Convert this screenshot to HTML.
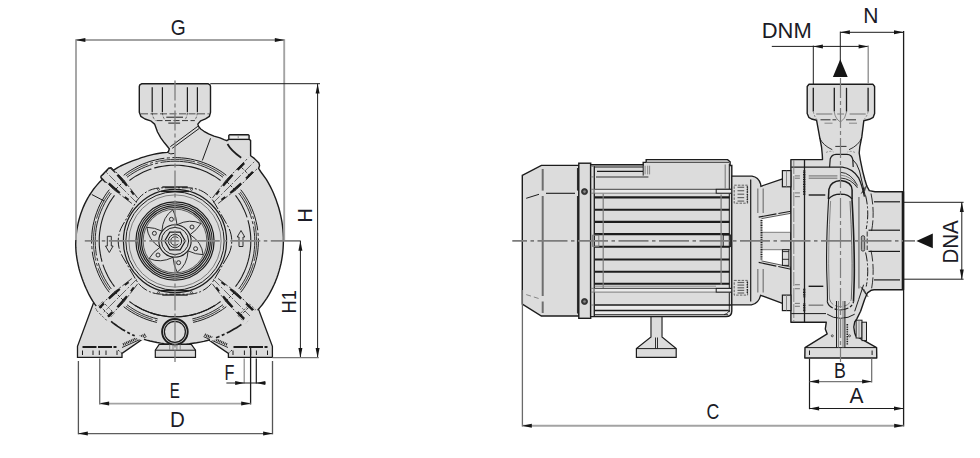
<!DOCTYPE html>
<html lang="en">
<head>
<meta charset="utf-8">
<title>Pump dimensions</title>
<style>
html,body{margin:0;padding:0;background:#ffffff;}
body{width:980px;height:458px;overflow:hidden;}
svg{display:block;}
svg text{font-family:"Liberation Sans",sans-serif;}
</style>
</head>
<body>
<svg width="980" height="458" viewBox="0 0 980 458" stroke-linecap="butt">
<rect x="0" y="0" width="980" height="458" fill="#ffffff"/>
<path d="M93.5 303.0 L77.5 346.3 L77.5 357.4 L122.0 357.4 L122.0 353.4 L147.0 336.0 L160.0 320.0 L120.0 290.0 Z" stroke="#1c1c1c" stroke-width="1.3" fill="#dcdcdc" />
<path d="M258.8 310.0 L272.4 346.3 L272.4 357.4 L228.4 357.4 L228.4 353.4 L203.0 336.0 L190.0 320.0 L235.0 290.0 Z" stroke="#1c1c1c" stroke-width="1.3" fill="#dcdcdc" />
<path d="M159.2 344.3 L191.3 344.3 L195.5 350.2 L195.5 357.4 L155.3 357.4 L155.3 350.2 Z" stroke="#1c1c1c" stroke-width="1.2" fill="#dcdcdc" />
<line x1="155.3" y1="350.2" x2="195.5" y2="350.2" stroke="#1c1c1c" stroke-width="1.0" />
<path d="M139.3 86.5 L139.3 112.3 L140.8 116.3 L145.0 119.0 L150.6 120.8 L154.6 124.1 L157.5 132.0 L160.8 137.8 L164.4 142.8 L169.3 148.7 L168.6 151.2 L167.3 152.4 L162.6 152.7 L159.5 153.2 L156.5 153.7 L153.4 154.4 L150.4 155.1 L147.4 155.9 L144.3 156.8 L141.4 157.7 L138.4 158.8 L135.4 159.8 L132.4 160.9 L129.4 162.1 L126.4 163.3 L123.5 164.6 L120.5 166.0 L117.6 167.6 L114.8 169.3 L112.1 171.2 L109.5 173.1 L106.9 175.2 L104.4 177.4 L101.9 179.7 L99.6 182.1 L97.3 184.6 L95.2 187.1 L93.1 189.8 L91.2 192.6 L89.3 195.5 L87.6 198.4 L86.0 201.4 L84.5 204.4 L83.1 207.6 L81.9 210.7 L80.7 214.0 L79.7 217.2 L78.8 220.5 L78.0 223.9 L77.3 227.3 L76.7 230.7 L76.3 234.1 L76.0 237.5 L75.8 241.0 L75.7 244.5 L75.8 247.9 L76.0 251.4 L76.4 254.9 L76.9 258.3 L77.5 261.7 L78.2 265.1 L79.0 268.5 L79.9 271.9 L81.0 275.2 L82.1 278.5 L83.3 281.8 L84.6 285.1 L86.0 288.3 L87.5 291.5 L89.0 294.7 L90.8 297.8 L92.6 300.9 L94.6 303.8 L96.7 306.7 L99.0 309.5 L101.3 312.2 L103.8 314.7 L106.3 317.2 L109.0 319.6 L111.8 321.9 L114.6 324.1 L117.5 326.2 L120.5 328.2 L123.6 330.1 L126.7 331.9 L129.9 333.6 L133.1 335.1 L136.4 336.5 L139.7 337.9 L143.1 339.0 L146.6 340.1 L150.1 341.0 L153.6 341.8 L157.1 342.5 L160.7 343.1 L164.2 343.6 L167.8 343.9 L171.4 344.2 L175.0 344.3 L178.6 344.3 L182.2 344.3 L185.8 344.1 L189.4 343.8 L193.0 343.3 L196.6 342.8 L200.2 342.1 L203.8 341.4 L207.3 340.5 L210.8 339.4 L214.3 338.3 L217.8 337.0 L221.2 335.6 L224.5 334.1 L227.9 332.5 L231.1 330.8 L234.4 329.0 L237.5 327.1 L240.6 325.0 L243.7 322.9 L246.6 320.6 L249.5 318.2 L252.3 315.7 L255.0 313.0 L257.6 310.3 L260.0 307.4 L262.4 304.5 L264.6 301.4 L266.7 298.3 L268.7 295.1 L270.5 291.8 L272.3 288.4 L273.9 285.0 L275.4 281.6 L276.8 278.0 L278.0 274.5 L279.1 270.9 L280.1 267.2 L281.0 263.5 L281.7 259.8 L282.3 256.1 L282.8 252.3 L283.1 248.6 L283.3 244.8 L283.4 241.0 L283.4 237.2 L283.2 233.4 L282.9 229.7 L282.5 225.9 L282.0 222.1 L281.3 218.4 L280.5 214.7 L279.6 211.0 L278.6 207.3 L277.4 203.7 L276.2 200.1 L274.8 196.6 L273.4 193.0 L271.8 189.5 L270.1 186.1 L268.2 182.7 L266.3 179.4 L260.6 171.5 L258.6 168.4 L259.6 165.6 L258.9 163.0 L254.3 158.4 L250.6 155.8 L250.6 140.4 L249.1 139.4 L249.1 135.6 L248.3 134.8 L229.6 134.8 L228.8 135.6 L228.8 139.4 L226.8 140.7 L224.0 139.6 L220.0 137.9 L214.0 136.2 L208.6 133.9 L204.0 131.3 L200.7 129.0 L198.6 126.5 L197.8 124.1 L200.7 120.8 L205.5 118.8 L209.4 116.3 L210.5 112.3 L210.5 86.5 L210.0 84.8 L208.3 83.8 L141.5 83.8 L139.8 84.8 Z" stroke="#1c1c1c" stroke-width="1.4" fill="#dcdcdc" stroke-linejoin="round"/>
<path d="M115.3 172.6 L110.6 168.0 L108.9 168.0 L100.9 176.2 L100.9 177.9 L105.6 182.5 Z" stroke="none" stroke-width="0" fill="#dcdcdc" />
<path d="M115.3 172.6 L110.6 168.0 L108.9 168.0 L100.9 176.2 L100.9 177.9 L105.6 182.5" stroke="#1c1c1c" stroke-width="1.3" fill="none" stroke-linejoin="round"/>
<line x1="152.2" y1="87.2" x2="152.2" y2="112.3" stroke="#1c1c1c" stroke-width="1.2" />
<line x1="162.4" y1="87.2" x2="162.4" y2="112.3" stroke="#1c1c1c" stroke-width="1.2" />
<line x1="187.4" y1="87.2" x2="187.4" y2="112.3" stroke="#1c1c1c" stroke-width="1.2" />
<line x1="197.4" y1="87.2" x2="197.4" y2="112.3" stroke="#1c1c1c" stroke-width="1.2" />
<line x1="141.0" y1="113.7" x2="208.8" y2="113.7" stroke="#7d7d7d" stroke-width="1.4" stroke-dasharray="7 2.5"/>
<line x1="166.3" y1="117.2" x2="183.0" y2="117.2" stroke="#1c1c1c" stroke-width="1.0" />
<line x1="156.5" y1="120.6" x2="194.8" y2="120.6" stroke="#333" stroke-width="1.0" stroke-dasharray="6 2.5"/>
<line x1="168.3" y1="123.1" x2="180.1" y2="123.1" stroke="#1c1c1c" stroke-width="1.0" />
<path d="M152.2 113 q0.6 5 3.2 7.5" stroke="#444" stroke-width="0.9" fill="none" stroke-dasharray="2.2 1.5"/>
<path d="M162.4 113 q0.6 5 3.2 7.5" stroke="#444" stroke-width="0.9" fill="none" stroke-dasharray="2.2 1.5"/>
<path d="M187.4 113 q-0.6 5 -3.2 7.5" stroke="#444" stroke-width="0.9" fill="none" stroke-dasharray="2.2 1.5"/>
<path d="M197.4 113 q-0.6 5 -3.2 7.5" stroke="#444" stroke-width="0.9" fill="none" stroke-dasharray="2.2 1.5"/>
<line x1="197.8" y1="126.3" x2="170.3" y2="146.7" stroke="#1c1c1c" stroke-width="1.0" />
<line x1="199.0" y1="128.6" x2="172.2" y2="148.3" stroke="#1c1c1c" stroke-width="1.0" />
<line x1="210.5" y1="138.3" x2="202.3" y2="160.5" stroke="#1c1c1c" stroke-width="1.0" />
<path d="M167.3 152.4 q3.5 2.5 7 1" stroke="#1c1c1c" stroke-width="1.0" fill="none" />
<line x1="228.8" y1="139.4" x2="249.1" y2="139.4" stroke="#1c1c1c" stroke-width="1.3" />
<line x1="230.5" y1="137.2" x2="247.5" y2="137.2" stroke="#f2f2f2" stroke-width="1.5" />
<line x1="238.2" y1="136.2" x2="238.2" y2="138.2" stroke="#7d7d7d" stroke-width="0.9" />
<path d="M227.5 144 Q231 150.5 241.2 157.8" stroke="#1c1c1c" stroke-width="1.7" fill="none" />
<path d="M226.3 175.3 L222.8 172.6 L219.1 170.2 L215.3 168.0 L211.4 165.9 L207.3 164.1 L203.2 162.5 L199.0 161.1 L194.7 160.0 L190.4 159.0 L186.0 158.3 L181.6 157.9 L177.2 157.6 L172.8 157.6 L168.4 157.9 L164.0 158.3 L159.6 159.0 L155.3 160.0 L151.0 161.1 L146.8 162.5 L142.7 164.1 L138.6 165.9 L134.7 168.0 L130.9 170.2 L127.2 172.6 L123.7 175.3" stroke="#1c1c1c" stroke-width="1.0" fill="none" stroke-dasharray="58 2.5 3 2.5"/>
<path d="M109.3 189.7 L106.6 193.2 L104.2 196.9 L102.0 200.7 L99.9 204.6 L98.1 208.7 L96.5 212.8 L95.1 217.0 L94.0 221.3 L93.0 225.6 L92.3 230.0 L91.9 234.4 L91.6 238.8 L91.6 243.2 L91.9 247.6 L92.3 252.0 L93.0 256.4 L94.0 260.7 L95.1 265.0 L96.5 269.2 L98.1 273.3 L99.9 277.4 L102.0 281.3 L104.2 285.1 L106.6 288.8 L109.3 292.3" stroke="#1c1c1c" stroke-width="1.0" fill="none" stroke-dasharray="58 2.5 3 2.5"/>
<path d="M123.7 306.7 L127.4 309.5 L131.3 312.0 L135.3 314.3 L139.4 316.4 L143.7 318.3 L148.0 319.9 L152.4 321.3 L156.9 322.4" stroke="#1c1c1c" stroke-width="1.0" fill="none" stroke-dasharray="58 2.5 3 2.5"/>
<path d="M193.1 322.4 L197.6 321.3 L202.0 319.9 L206.3 318.3 L210.6 316.4 L214.7 314.3 L218.7 312.0 L222.6 309.5 L226.3 306.7" stroke="#1c1c1c" stroke-width="1.0" fill="none" stroke-dasharray="58 2.5 3 2.5"/>
<path d="M240.7 292.3 L243.4 288.8 L245.8 285.1 L248.0 281.3 L250.1 277.4 L251.9 273.3 L253.5 269.2 L254.9 265.0 L256.0 260.7 L257.0 256.4 L257.7 252.0 L258.1 247.6 L258.4 243.2 L258.4 238.8 L258.1 234.4 L257.7 230.0 L257.0 225.6 L256.0 221.3 L254.9 217.0 L253.5 212.8 L251.9 208.7 L250.1 204.6 L248.0 200.7 L245.8 196.9 L243.4 193.2 L240.7 189.7" stroke="#1c1c1c" stroke-width="1.0" fill="none" stroke-dasharray="58 2.5 3 2.5"/>
<path d="M224.1 175.8 L220.5 173.3 L216.8 170.9 L213.0 168.8 L209.1 166.8 L205.0 165.1 L200.9 163.6 L196.7 162.3 L192.4 161.3 L188.1 160.5 L183.8 159.9 L179.4 159.5 L175.0 159.4 L170.6 159.5 L166.2 159.9 L161.9 160.5 L157.6 161.3 L153.3 162.3 L149.1 163.6 L145.0 165.1 L140.9 166.8 L137.0 168.8 L133.2 170.9 L129.5 173.3 L125.9 175.8" stroke="#333" stroke-width="0.9" fill="none" stroke-dasharray="30 2.5 40 2.5 3 2.5"/>
<path d="M109.8 191.9 L107.3 195.5 L104.9 199.2 L102.8 203.0 L100.8 206.9 L99.1 211.0 L97.6 215.1 L96.3 219.3 L95.3 223.6 L94.5 227.9 L93.9 232.2 L93.5 236.6 L93.4 241.0 L93.5 245.4 L93.9 249.8 L94.5 254.1 L95.3 258.4 L96.3 262.7 L97.6 266.9 L99.1 271.0 L100.8 275.1 L102.8 279.0 L104.9 282.8 L107.3 286.5 L109.8 290.1" stroke="#333" stroke-width="0.9" fill="none" stroke-dasharray="30 2.5 40 2.5 3 2.5"/>
<path d="M125.9 306.2 L129.4 308.7 L133.1 311.0 L136.9 313.2 L140.8 315.1 L144.8 316.8 L148.9 318.3 L153.1 319.6 L157.3 320.7" stroke="#333" stroke-width="0.9" fill="none" stroke-dasharray="30 2.5 40 2.5 3 2.5"/>
<path d="M192.7 320.7 L196.9 319.6 L201.1 318.3 L205.2 316.8 L209.2 315.1 L213.1 313.2 L216.9 311.0 L220.6 308.7 L224.1 306.2" stroke="#333" stroke-width="0.9" fill="none" stroke-dasharray="30 2.5 40 2.5 3 2.5"/>
<path d="M240.2 290.1 L242.7 286.5 L245.1 282.8 L247.2 279.0 L249.2 275.1 L250.9 271.0 L252.4 266.9 L253.7 262.7 L254.7 258.4 L255.5 254.1 L256.1 249.8 L256.5 245.4 L256.6 241.0 L256.5 236.6 L256.1 232.2 L255.5 227.9 L254.7 223.6 L253.7 219.3 L252.4 215.1 L250.9 211.0 L249.2 206.9 L247.2 203.0 L245.1 199.2 L242.7 195.5 L240.2 191.9" stroke="#333" stroke-width="0.9" fill="none" stroke-dasharray="30 2.5 40 2.5 3 2.5"/>
<path d="M223.0 177.3 L219.5 174.8 L215.9 172.5 L212.2 170.4 L208.3 168.5 L204.4 166.8 L200.3 165.3 L196.2 164.1 L192.0 163.0 L187.8 162.2 L183.6 161.7 L179.3 161.3 L175.0 161.2 L170.7 161.3 L166.4 161.7 L162.2 162.2 L158.0 163.0 L153.8 164.1 L149.7 165.3 L145.6 166.8 L141.7 168.5 L137.8 170.4 L134.1 172.5 L130.5 174.8 L127.0 177.3" stroke="#2a2a2a" stroke-width="1.0" fill="none" stroke-dasharray="66 2.5 3 2.5"/>
<path d="M111.3 193.0 L108.8 196.5 L106.5 200.1 L104.4 203.8 L102.5 207.7 L100.8 211.6 L99.3 215.7 L98.1 219.8 L97.0 224.0 L96.2 228.2 L95.7 232.4 L95.3 236.7 L95.2 241.0 L95.3 245.3 L95.7 249.6 L96.2 253.8 L97.0 258.0 L98.1 262.2 L99.3 266.3 L100.8 270.4 L102.5 274.3 L104.4 278.2 L106.5 281.9 L108.8 285.5 L111.3 289.0" stroke="#2a2a2a" stroke-width="1.0" fill="none" stroke-dasharray="66 2.5 3 2.5"/>
<path d="M127.0 304.7 L130.4 307.2 L134.0 309.5 L137.8 311.6 L141.6 313.5 L145.5 315.2 L149.5 316.6 L153.6 317.9 L157.7 318.9" stroke="#2a2a2a" stroke-width="1.0" fill="none" stroke-dasharray="66 2.5 3 2.5"/>
<path d="M192.3 318.9 L196.4 317.9 L200.5 316.6 L204.5 315.2 L208.4 313.5 L212.2 311.6 L216.0 309.5 L219.6 307.2 L223.0 304.7" stroke="#2a2a2a" stroke-width="1.0" fill="none" stroke-dasharray="66 2.5 3 2.5"/>
<path d="M238.7 289.0 L241.2 285.5 L243.5 281.9 L245.6 278.2 L247.5 274.3 L249.2 270.4 L250.7 266.3 L251.9 262.2 L253.0 258.0 L253.8 253.8 L254.3 249.6 L254.7 245.3 L254.8 241.0 L254.7 236.7 L254.3 232.4 L253.8 228.2 L253.0 224.0 L251.9 219.8 L250.7 215.7 L249.2 211.6 L247.5 207.7 L245.6 203.8 L243.5 200.1 L241.2 196.5 L238.7 193.0" stroke="#2a2a2a" stroke-width="1.0" fill="none" stroke-dasharray="66 2.5 3 2.5"/>
<path d="M220.6 180.5 L217.3 178.1 L213.9 175.9 L210.3 173.9 L206.6 172.1 L202.9 170.5 L199.1 169.1 L195.2 167.9 L191.2 166.9 L187.2 166.2 L183.1 165.6 L179.1 165.3 L175.0 165.2 L170.9 165.3 L166.9 165.6 L162.8 166.2 L158.8 166.9 L154.8 167.9 L150.9 169.1 L147.1 170.5 L143.4 172.1 L139.7 173.9 L136.1 175.9 L132.7 178.1 L129.4 180.5" stroke="#1c1c1c" stroke-width="1.1" fill="none" stroke-dasharray="70 3"/>
<path d="M114.5 195.4 L112.1 198.7 L109.9 202.1 L107.9 205.7 L106.1 209.4 L104.5 213.1 L103.1 216.9 L101.9 220.8 L100.9 224.8 L100.2 228.8 L99.6 232.9 L99.3 236.9 L99.2 241.0 L99.3 245.1 L99.6 249.1 L100.2 253.2 L100.9 257.2 L101.9 261.2 L103.1 265.1 L104.5 268.9 L106.1 272.6 L107.9 276.3 L109.9 279.9 L112.1 283.3 L114.5 286.6" stroke="#1c1c1c" stroke-width="1.1" fill="none" stroke-dasharray="70 3"/>
<path d="M129.4 301.5 L132.7 303.9 L136.1 306.1 L139.7 308.1 L143.4 309.9 L147.1 311.5 L150.9 312.9 L154.8 314.1 L158.8 315.1 L162.8 315.8 L166.9 316.4 L170.9 316.7 L175.0 316.8 L179.1 316.7 L183.1 316.4 L187.2 315.8 L191.2 315.1 L195.2 314.1 L199.1 312.9 L202.9 311.5 L206.6 309.9 L210.3 308.1 L213.9 306.1 L217.3 303.9 L220.6 301.5" stroke="#1c1c1c" stroke-width="1.1" fill="none" stroke-dasharray="70 3"/>
<path d="M235.5 286.6 L237.9 283.3 L240.1 279.9 L242.1 276.3 L243.9 272.6 L245.5 268.9 L246.9 265.1 L248.1 261.2 L249.1 257.2 L249.8 253.2 L250.4 249.1 L250.7 245.1 L250.8 241.0 L250.7 236.9 L250.4 232.9 L249.8 228.8 L249.1 224.8 L248.1 220.8 L246.9 216.9 L245.5 213.1 L243.9 209.4 L242.1 205.7 L240.1 202.1 L237.9 198.7 L235.5 195.4" stroke="#1c1c1c" stroke-width="1.1" fill="none" stroke-dasharray="70 3"/>
<path d="M134.8 305.3 L138.3 307.3 L141.9 309.2 L145.6 310.8 L149.3 312.3 L153.1 313.6 L157.0 314.6 L161.0 315.5 L164.9 316.1 L169.0 316.6 L173.0 316.8 L177.0 316.8 L181.0 316.6 L185.1 316.1 L189.0 315.5 L193.0 314.6 L196.9 313.6 L200.7 312.3 L204.4 310.8 L208.1 309.2 L211.7 307.3 L215.2 305.3" stroke="#1c1c1c" stroke-width="1.1" fill="none" />
<circle cx="175.0" cy="241.0" r="51.6" stroke="#1c1c1c" stroke-width="1.2" fill="none" />
<circle cx="175.0" cy="241.0" r="49.2" stroke="#1c1c1c" stroke-width="1.0" fill="none" />
<circle cx="175.0" cy="241.0" r="46.1" stroke="#555" stroke-width="0.7" fill="none" />
<path d="M227.8 256.0 L229.2 253.2 L230.3 250.3 L231.1 247.2 L231.6 244.1 L231.8 241.0 L231.6 237.9 L231.1 234.8 L230.3 231.7 L229.2 228.8 L227.8 226.0 L214.4 202.8 L212.7 200.2 L210.7 197.7 L208.5 195.5 L206.0 193.5 L203.4 191.8 L200.6 190.4 L197.7 189.3 L194.6 188.5 L191.5 188.0 L188.4 187.8 L161.6 187.8 L158.5 188.0 L155.4 188.5 L152.3 189.3 L149.4 190.4 L146.6 191.8 L144.0 193.5 L141.5 195.5 L139.3 197.7 L137.3 200.2 L135.6 202.8 L122.2 226.0 L120.8 228.8 L119.7 231.7 L118.9 234.8 L118.4 237.9 L118.2 241.0 L118.4 244.1 L118.9 247.2 L119.7 250.3 L120.8 253.2 L122.2 256.0 L135.6 279.2 L137.3 281.8 L139.3 284.3 L141.5 286.5 L144.0 288.5 L146.6 290.2 L149.4 291.6 L152.3 292.7 L155.4 293.5 L158.5 294.0 L161.6 294.2 L188.4 294.2 L191.5 294.0 L194.6 293.5 L197.7 292.7 L200.6 291.6 L203.4 290.2 L206.0 288.5 L208.5 286.5 L210.7 284.3 L212.7 281.8 L214.4 279.2 Z" stroke="#1c1c1c" stroke-width="1.0" fill="none" stroke-dasharray="11 2 2 2"/>
<line x1="162.3" y1="187.0" x2="187.7" y2="187.0" stroke="#1c1c1c" stroke-width="1.4" />
<line x1="161.0" y1="191.4" x2="189.0" y2="191.4" stroke="#1c1c1c" stroke-width="1.4" />
<circle cx="158.5" cy="189.4" r="1.0" stroke="#1c1c1c" stroke-width="0.7" fill="none" />
<circle cx="191.5" cy="189.4" r="1.0" stroke="#1c1c1c" stroke-width="0.7" fill="none" />
<line x1="162.3" y1="295.0" x2="187.7" y2="295.0" stroke="#1c1c1c" stroke-width="1.4" />
<line x1="161.0" y1="290.6" x2="189.0" y2="290.6" stroke="#1c1c1c" stroke-width="1.4" />
<circle cx="158.5" cy="292.6" r="1.0" stroke="#1c1c1c" stroke-width="0.7" fill="none" />
<circle cx="191.5" cy="292.6" r="1.0" stroke="#1c1c1c" stroke-width="0.7" fill="none" />
<path d="M218.1 203.5 L227.7 196.1 L236.5 189.4 L258.4 167.5" stroke="#2a2a2a" stroke-width="0.9" fill="none" stroke-dasharray="12 2 2 2"/>
<path d="M212.5 197.9 L219.9 188.3 L226.6 179.5 L248.5 157.6" stroke="#2a2a2a" stroke-width="0.9" fill="none" stroke-dasharray="12 2 2 2"/>
<line x1="221.4" y1="199.7" x2="225.2" y2="196.9" stroke="#1c1c1c" stroke-width="1.8" />
<line x1="230.3" y1="193.0" x2="241.2" y2="183.4" stroke="#1c1c1c" stroke-width="2.3" />
<line x1="246.1" y1="178.5" x2="252.9" y2="171.8" stroke="#1c1c1c" stroke-width="2.3" />
<line x1="216.3" y1="194.6" x2="219.1" y2="190.8" stroke="#1c1c1c" stroke-width="1.8" />
<line x1="223.0" y1="185.7" x2="232.6" y2="174.8" stroke="#1c1c1c" stroke-width="2.3" />
<line x1="237.5" y1="169.9" x2="244.2" y2="163.1" stroke="#1c1c1c" stroke-width="2.3" />
<line x1="213.2" y1="202.8" x2="254.2" y2="161.8" stroke="#555" stroke-width="0.9" stroke-dasharray="9 2 2 2"/>
<line x1="235.3" y1="190.3" x2="225.7" y2="180.7" stroke="#1c1c1c" stroke-width="0.9" stroke-dasharray="3 1.5"/>
<line x1="250.0" y1="175.9" x2="240.1" y2="166.0" stroke="#1c1c1c" stroke-width="0.9" stroke-dasharray="3 1.5"/>
<path d="M137.5 197.9 L130.1 188.3 L123.4 179.5 L111.0 167.1" stroke="#2a2a2a" stroke-width="0.9" fill="none" stroke-dasharray="12 2 2 2"/>
<path d="M131.9 203.5 L122.3 196.1 L113.5 189.4 L101.1 177.0" stroke="#2a2a2a" stroke-width="0.9" fill="none" stroke-dasharray="12 2 2 2"/>
<line x1="133.7" y1="194.6" x2="130.9" y2="190.8" stroke="#1c1c1c" stroke-width="1.8" />
<line x1="127.0" y1="185.7" x2="117.4" y2="174.8" stroke="#1c1c1c" stroke-width="2.3" />
<line x1="128.6" y1="199.7" x2="124.8" y2="196.9" stroke="#1c1c1c" stroke-width="1.8" />
<line x1="119.7" y1="193.0" x2="108.8" y2="183.4" stroke="#1c1c1c" stroke-width="2.3" />
<line x1="136.8" y1="202.8" x2="105.3" y2="171.3" stroke="#555" stroke-width="0.9" stroke-dasharray="9 2 2 2"/>
<line x1="124.3" y1="180.7" x2="114.7" y2="190.3" stroke="#1c1c1c" stroke-width="0.9" stroke-dasharray="3 1.5"/>
<line x1="111.0" y1="167.1" x2="101.1" y2="177.0" stroke="#1c1c1c" stroke-width="0.9" stroke-dasharray="3 1.5"/>
<path d="M131.9 278.5 L122.3 285.9 L113.5 292.6 L96.5 309.6" stroke="#2a2a2a" stroke-width="0.9" fill="none" stroke-dasharray="12 2 2 2"/>
<path d="M137.5 284.1 L130.1 293.7 L123.4 302.5 L106.4 319.5" stroke="#2a2a2a" stroke-width="0.9" fill="none" stroke-dasharray="12 2 2 2"/>
<line x1="128.6" y1="282.3" x2="124.8" y2="285.1" stroke="#1c1c1c" stroke-width="1.8" />
<line x1="119.7" y1="289.0" x2="108.8" y2="298.6" stroke="#1c1c1c" stroke-width="2.3" />
<line x1="103.9" y1="303.5" x2="98.2" y2="309.2" stroke="#1c1c1c" stroke-width="2.3" />
<line x1="133.7" y1="287.4" x2="130.9" y2="291.2" stroke="#1c1c1c" stroke-width="1.8" />
<line x1="127.0" y1="296.3" x2="117.4" y2="307.2" stroke="#1c1c1c" stroke-width="2.3" />
<line x1="112.5" y1="312.1" x2="106.8" y2="317.8" stroke="#1c1c1c" stroke-width="2.3" />
<line x1="136.8" y1="279.2" x2="100.8" y2="315.2" stroke="#555" stroke-width="0.9" stroke-dasharray="9 2 2 2"/>
<line x1="114.7" y1="291.7" x2="124.3" y2="301.3" stroke="#1c1c1c" stroke-width="0.9" stroke-dasharray="3 1.5"/>
<line x1="100.0" y1="306.1" x2="109.9" y2="316.0" stroke="#1c1c1c" stroke-width="0.9" stroke-dasharray="3 1.5"/>
<path d="M102.7 301.7 L95.3 309.1 L106.9 320.7 L114.3 313.3 Z" stroke="#444" stroke-width="0.9" fill="none" stroke-dasharray="2.5 1.5"/>
<path d="M212.5 284.1 L219.9 293.7 L226.6 302.5 L246.1 322.0" stroke="#2a2a2a" stroke-width="0.9" fill="none" stroke-dasharray="12 2 2 2"/>
<path d="M218.1 278.5 L227.7 285.9 L236.5 292.6 L256.0 312.1" stroke="#2a2a2a" stroke-width="0.9" fill="none" stroke-dasharray="12 2 2 2"/>
<line x1="216.3" y1="287.4" x2="219.1" y2="291.2" stroke="#1c1c1c" stroke-width="1.8" />
<line x1="223.0" y1="296.3" x2="232.6" y2="307.2" stroke="#1c1c1c" stroke-width="2.3" />
<line x1="237.5" y1="312.1" x2="244.2" y2="318.9" stroke="#1c1c1c" stroke-width="2.3" />
<line x1="221.4" y1="282.3" x2="225.2" y2="285.1" stroke="#1c1c1c" stroke-width="1.8" />
<line x1="230.3" y1="289.0" x2="241.2" y2="298.6" stroke="#1c1c1c" stroke-width="2.3" />
<line x1="246.1" y1="303.5" x2="252.9" y2="310.2" stroke="#1c1c1c" stroke-width="2.3" />
<line x1="213.2" y1="279.2" x2="251.7" y2="317.7" stroke="#555" stroke-width="0.9" stroke-dasharray="9 2 2 2"/>
<line x1="225.7" y1="301.3" x2="235.3" y2="291.7" stroke="#1c1c1c" stroke-width="0.9" stroke-dasharray="3 1.5"/>
<line x1="240.1" y1="316.0" x2="250.0" y2="306.1" stroke="#1c1c1c" stroke-width="0.9" stroke-dasharray="3 1.5"/>
<path d="M238.1 315.7 L245.6 323.2 L257.2 311.6 L249.7 304.1 Z" stroke="#444" stroke-width="0.9" fill="none" stroke-dasharray="2.5 1.5"/>
<line x1="91.8" y1="194.5" x2="104.2" y2="201.0" stroke="#1c1c1c" stroke-width="1.0" />
<circle cx="175.0" cy="241.0" r="39.1" stroke="#1c1c1c" stroke-width="1.2" fill="none" />
<circle cx="175.0" cy="241.0" r="37.2" stroke="#1c1c1c" stroke-width="1.1" fill="none" />
<circle cx="175.0" cy="241.0" r="35.3" stroke="#1c1c1c" stroke-width="1.2" fill="none" />
<circle cx="175.0" cy="241.0" r="33.5" stroke="#1c1c1c" stroke-width="1.2" fill="none" />
<circle cx="175.0" cy="241.0" r="31.9" stroke="#1c1c1c" stroke-width="0.7" fill="none" />
<path d="M161.9 231.1 Q162.7 216.9 172.8 209.8 Q176.5 216.5 177.0 224.7" stroke="#1c1c1c" stroke-width="0.9" fill="none" />
<circle cx="171.4" cy="219.3" r="2.0" stroke="#1c1c1c" stroke-width="0.9" fill="none" />
<path d="M159.9 247.4 Q148.0 239.6 146.9 227.3 Q154.6 227.5 161.9 231.1" stroke="#1c1c1c" stroke-width="0.9" fill="none" />
<circle cx="154.4" cy="233.3" r="2.0" stroke="#1c1c1c" stroke-width="0.9" fill="none" />
<path d="M173.0 257.3 Q160.3 263.6 149.1 258.5 Q153.1 251.9 159.9 247.4" stroke="#1c1c1c" stroke-width="0.9" fill="none" />
<circle cx="158.0" cy="255.0" r="2.0" stroke="#1c1c1c" stroke-width="0.9" fill="none" />
<path d="M188.1 250.9 Q187.3 265.1 177.2 272.2 Q173.5 265.5 173.0 257.3" stroke="#1c1c1c" stroke-width="0.9" fill="none" />
<circle cx="178.6" cy="262.7" r="2.0" stroke="#1c1c1c" stroke-width="0.9" fill="none" />
<path d="M190.1 234.6 Q202.0 242.4 203.1 254.7 Q195.4 254.5 188.1 250.9" stroke="#1c1c1c" stroke-width="0.9" fill="none" />
<circle cx="195.6" cy="248.7" r="2.0" stroke="#1c1c1c" stroke-width="0.9" fill="none" />
<path d="M177.0 224.7 Q189.7 218.4 200.9 223.5 Q196.9 230.1 190.1 234.6" stroke="#1c1c1c" stroke-width="0.9" fill="none" />
<circle cx="192.0" cy="227.0" r="2.0" stroke="#1c1c1c" stroke-width="0.9" fill="none" />
<circle cx="175.0" cy="241.0" r="16.2" stroke="#1c1c1c" stroke-width="1.1" fill="none" />
<circle cx="175.0" cy="241.0" r="13.6" stroke="#1c1c1c" stroke-width="1.0" fill="none" />
<path d="M185.3 241.0 L180.2 232.1 L169.8 232.1 L164.7 241.0 L169.8 249.9 L180.2 249.9 Z" stroke="#1c1c1c" stroke-width="1.2" fill="none" />
<circle cx="175.0" cy="241.0" r="6.6" stroke="#1c1c1c" stroke-width="1.0" fill="none" />
<path d="M178.3 238.2 L177.8 237.7 L177.2 237.3 L176.5 237.0 L175.7 236.8 L175.0 236.7 L174.3 236.8 L173.5 237.0 L172.8 237.3 L172.2 237.7 L171.7 238.2 L171.3 238.8 L171.0 239.5 L170.8 240.3 L170.7 241.0 L170.8 241.7 L171.0 242.5 L171.3 243.2 L171.7 243.8 L172.2 244.3 L172.8 244.7 L173.5 245.0 L174.3 245.2 L175.0 245.3 L175.7 245.2 L176.5 245.0 L177.2 244.7 L177.8 244.3 L178.3 243.8" stroke="#1c1c1c" stroke-width="1.0" fill="none" />
<path d="M109.3 252.5 L105.5 246.0 L107.3 246.0 L107.3 236.3 L111.3 236.3 L111.3 246.0 L113.1 246.0 Z" stroke="#1c1c1c" stroke-width="0.9" fill="none" />
<path d="M241.0 230.5 L237.2 237.0 L239.0 237.0 L239.0 246.5 L243.0 246.5 L243.0 237.0 L244.8 237.0 Z" stroke="#1c1c1c" stroke-width="0.9" fill="none" />
<circle cx="174.9" cy="331.8" r="12.8" stroke="#1c1c1c" stroke-width="1.9" fill="#dcdcdc" />
<circle cx="174.9" cy="331.8" r="10.5" stroke="#1c1c1c" stroke-width="1.2" fill="none" />
<line x1="169.7" y1="344.5" x2="169.7" y2="350.0" stroke="#7d7d7d" stroke-width="0.9" />
<line x1="173.0" y1="344.5" x2="173.0" y2="350.0" stroke="#7d7d7d" stroke-width="0.9" />
<line x1="176.9" y1="344.5" x2="176.9" y2="350.0" stroke="#7d7d7d" stroke-width="0.9" />
<line x1="180.2" y1="344.5" x2="180.2" y2="350.0" stroke="#7d7d7d" stroke-width="0.9" />
<line x1="82.5" y1="347.0" x2="116.5" y2="347.0" stroke="#1c1c1c" stroke-width="1.8" stroke-dasharray="14 1.5"/>
<line x1="233.5" y1="347.0" x2="267.5" y2="347.0" stroke="#1c1c1c" stroke-width="1.8" stroke-dasharray="14 1.5"/>
<line x1="82.5" y1="350.5" x2="82.5" y2="355.0" stroke="#1c1c1c" stroke-width="1.0" />
<line x1="93.0" y1="350.5" x2="93.0" y2="355.0" stroke="#1c1c1c" stroke-width="1.0" />
<line x1="99.3" y1="350.5" x2="99.3" y2="355.0" stroke="#1c1c1c" stroke-width="1.0" />
<line x1="106.0" y1="350.5" x2="106.0" y2="355.0" stroke="#1c1c1c" stroke-width="1.0" />
<line x1="117.0" y1="350.5" x2="117.0" y2="355.0" stroke="#1c1c1c" stroke-width="1.0" />
<line x1="233.0" y1="350.5" x2="233.0" y2="355.0" stroke="#1c1c1c" stroke-width="1.0" />
<line x1="244.4" y1="350.5" x2="244.4" y2="355.0" stroke="#1c1c1c" stroke-width="1.0" />
<line x1="250.7" y1="350.5" x2="250.7" y2="355.0" stroke="#1c1c1c" stroke-width="1.0" />
<line x1="256.4" y1="350.5" x2="256.4" y2="355.0" stroke="#1c1c1c" stroke-width="1.0" />
<line x1="267.5" y1="350.5" x2="267.5" y2="355.0" stroke="#1c1c1c" stroke-width="1.0" />
<line x1="123.0" y1="344.5" x2="145.5" y2="334.5" stroke="#1c1c1c" stroke-width="2.6" stroke-dasharray="1 0.8"/>
<line x1="122.0" y1="347.5" x2="146.5" y2="336.6" stroke="#1c1c1c" stroke-width="0.9" />
<line x1="227.0" y1="344.5" x2="204.5" y2="334.5" stroke="#1c1c1c" stroke-width="2.6" stroke-dasharray="1 0.8"/>
<line x1="228.0" y1="347.5" x2="203.5" y2="336.6" stroke="#1c1c1c" stroke-width="0.9" />
<line x1="118.0" y1="350.0" x2="122.0" y2="353.4" stroke="#1c1c1c" stroke-width="0.9" stroke-dasharray="2 1.5"/>
<line x1="232.0" y1="350.0" x2="228.4" y2="353.4" stroke="#1c1c1c" stroke-width="0.9" stroke-dasharray="2 1.5"/>
<path d="M96.2 306.0 L97.8 308.1 L99.5 310.1 L101.3 312.2 L103.2 314.1 L105.1 316.0 L107.0 317.9 L109.0 319.6 L111.1 321.4 L113.2 323.1 L115.3 324.7 L117.5 326.2 L119.7 327.7 L122.0 329.2 L124.3 330.6 L126.7 331.9 L129.1 333.1 L131.5 334.3 L133.9 335.5 L136.4 336.5 L138.9 337.5 L141.4 338.5 L144.0 339.3" stroke="#dcdcdc" stroke-width="3.0" fill="none" />
<path d="M210.0 339.7 L212.6 338.9 L215.3 338.0 L217.9 337.0 L220.5 335.9 L223.1 334.8 L225.6 333.6 L228.1 332.4 L230.6 331.1 L233.1 329.7 L235.6 328.3 L238.0 326.8 L240.3 325.2 L242.7 323.6 L245.0 321.9 L247.2 320.1 L249.4 318.3 L251.5 316.4 L253.6 314.4 L255.6 312.4 L257.6 310.3" stroke="#dcdcdc" stroke-width="3.0" fill="none" />
<path d="M111.1 321.4 L113.2 323.1 L115.5 324.8 L117.7 326.4 L120.0 327.9 L122.4 329.4 L124.8 330.8 L127.2 332.2 L129.7 333.5 L132.2 334.7 L134.7 335.8" stroke="#1c1c1c" stroke-width="1.7" fill="none" stroke-dasharray="17 2.5 3 2.5"/>
<path d="M241.4 324.5 L239.0 326.1 L236.6 327.7 L234.1 329.1 L231.6 330.6 L229.1 331.9 L226.5 333.2 L223.9 334.4 L221.3 335.6 L218.7 336.7 L216.0 337.7" stroke="#1c1c1c" stroke-width="1.7" fill="none" stroke-dasharray="17 2.5 3 2.5"/>
<line x1="84.8" y1="240.9" x2="301.5" y2="240.9" stroke="#828282" stroke-width="1.8" stroke-dasharray="30 3.5 3.5 3.5" stroke-dashoffset="16.5"/>
<line x1="175.0" y1="80.5" x2="175.0" y2="362.0" stroke="#7d7d7d" stroke-width="1.3" stroke-dasharray="20 3 4 3"/>
<line x1="76.0" y1="39.2" x2="76.0" y2="240.0" stroke="#a3a3a3" stroke-width="1.9" />
<line x1="284.2" y1="39.2" x2="284.2" y2="240.0" stroke="#a3a3a3" stroke-width="1.9" />
<line x1="76.0" y1="40.0" x2="284.2" y2="40.0" stroke="#a3a3a3" stroke-width="1.9" />
<path d="M75.6 40.0 L85.4 38.0 L85.4 42.0 Z" fill="#161616" stroke="none"/>
<path d="M284.6 40.0 L274.8 42.0 L274.8 38.0 Z" fill="#161616" stroke="none"/>
<text x="0" y="0" font-size="21.4" fill="#1b1b26" transform="translate(170.86 34.60) scale(0.8993 1)">G</text>
<line x1="210.3" y1="83.7" x2="320.0" y2="83.7" stroke="#1c1c1c" stroke-width="1.0" />
<line x1="317.6" y1="83.7" x2="317.6" y2="357.5" stroke="#1c1c1c" stroke-width="1.0" />
<path d="M317.6 83.7 L319.6 93.5 L315.6 93.5 Z" fill="#161616" stroke="none"/>
<path d="M317.6 357.7 L315.6 347.9 L319.6 347.9 Z" fill="#161616" stroke="none"/>
<text x="0" y="0" font-size="21" fill="#1b1b26" transform="translate(312.00 222.55) rotate(-90) scale(0.9407 1)">H</text>
<line x1="300.4" y1="241.0" x2="300.4" y2="357.5" stroke="#1c1c1c" stroke-width="1.0" />
<path d="M300.4 241.0 L302.4 250.8 L298.4 250.8 Z" fill="#161616" stroke="none"/>
<path d="M300.4 357.7 L298.4 347.9 L302.4 347.9 Z" fill="#161616" stroke="none"/>
<text x="0" y="0" font-size="21" fill="#1b1b26" transform="translate(296.00 313.38) rotate(-90) scale(0.8678 1)">H1</text>
<line x1="272.4" y1="357.7" x2="318.8" y2="357.7" stroke="#777" stroke-width="1.3" />
<line x1="244.2" y1="358.5" x2="244.2" y2="383.5" stroke="#8a8a8a" stroke-width="1.2" />
<line x1="256.3" y1="358.5" x2="256.3" y2="383.5" stroke="#1c1c1c" stroke-width="1.2" />
<line x1="226.4" y1="383.0" x2="265.8" y2="383.0" stroke="#1c1c1c" stroke-width="1.0" />
<path d="M244.2 383.0 L235.2 385.0 L235.2 381.0 Z" fill="#161616" stroke="none"/>
<path d="M256.3 383.0 L265.3 381.0 L265.3 385.0 Z" fill="#161616" stroke="none"/>
<text x="0" y="0" font-size="21.4" fill="#1b1b26" transform="translate(224.53 379.90) scale(0.7596 1)">F</text>
<line x1="99.7" y1="358.5" x2="99.7" y2="404.5" stroke="#6a6a6a" stroke-width="1.3" />
<line x1="250.6" y1="346.0" x2="250.6" y2="404.5" stroke="#1c1c1c" stroke-width="1.3" />
<line x1="99.7" y1="403.6" x2="250.6" y2="403.6" stroke="#a3a3a3" stroke-width="1.8" />
<path d="M99.3 403.6 L109.1 401.6 L109.1 405.6 Z" fill="#161616" stroke="none"/>
<path d="M251.0 403.6 L241.2 405.6 L241.2 401.6 Z" fill="#161616" stroke="none"/>
<text x="0" y="0" font-size="21.4" fill="#1b1b26" transform="translate(169.83 398.20) scale(0.7069 1)">E</text>
<line x1="78.4" y1="361.0" x2="78.4" y2="434.3" stroke="#555" stroke-width="1.3" />
<line x1="272.5" y1="361.0" x2="272.5" y2="434.3" stroke="#555" stroke-width="1.3" />
<line x1="78.4" y1="433.6" x2="272.5" y2="433.6" stroke="#5e5e5e" stroke-width="1.3" />
<path d="M78.0 433.6 L87.8 431.6 L87.8 435.6 Z" fill="#161616" stroke="none"/>
<path d="M272.9 433.6 L263.1 435.6 L263.1 431.6 Z" fill="#161616" stroke="none"/>
<text x="0" y="0" font-size="21.4" fill="#1b1b26" transform="translate(170.12 427.30) scale(0.9603 1)">D</text>
<path d="M651.0 315.0 L651.0 337.0 L636.4 348.6 L636.4 357.4 L676.2 357.4 L676.2 348.6 L662.0 337.0 L662.0 315.0 Z" stroke="#1c1c1c" stroke-width="1.2" fill="#dcdcdc" />
<line x1="636.4" y1="348.6" x2="676.2" y2="348.6" stroke="#1c1c1c" stroke-width="1.0" />
<line x1="655.5" y1="337.5" x2="655.5" y2="348.6" stroke="#1c1c1c" stroke-width="0.9" />
<line x1="657.5" y1="337.5" x2="657.5" y2="348.6" stroke="#1c1c1c" stroke-width="0.9" />
<line x1="651.0" y1="316.0" x2="651.0" y2="337.0" stroke="#7d7d7d" stroke-width="1.4" />
<line x1="662.0" y1="316.0" x2="662.0" y2="337.0" stroke="#7d7d7d" stroke-width="1.4" />
<path d="M522.3 175.3 L541.4 165.4 L579.0 165.4 L579.0 316.0 L541.4 316.0 L522.3 304.0 Z" stroke="#1c1c1c" stroke-width="1.4" fill="#dcdcdc" />
<line x1="542.7" y1="169.0" x2="542.7" y2="190.6" stroke="#6e6e6e" stroke-width="2.0" />
<line x1="542.7" y1="196.0" x2="542.7" y2="296.0" stroke="#6e6e6e" stroke-width="2.0" />
<line x1="542.7" y1="301.5" x2="542.7" y2="313.0" stroke="#6e6e6e" stroke-width="2.0" />
<line x1="577.7" y1="168.0" x2="577.7" y2="190.6" stroke="#2e2e2e" stroke-width="1.5" />
<line x1="577.7" y1="196.0" x2="577.7" y2="313.5" stroke="#2e2e2e" stroke-width="1.5" />
<line x1="546.0" y1="193.3" x2="575.0" y2="193.3" stroke="#1c1c1c" stroke-width="1.1" />
<line x1="526.2" y1="198.3" x2="539.0" y2="194.3" stroke="#1c1c1c" stroke-width="1.0" />
<line x1="526.2" y1="294.6" x2="539.0" y2="298.6" stroke="#7d7d7d" stroke-width="0.9" stroke-dasharray="5 3"/>
<rect x="578.8" y="163.2" width="11.9" height="155.1" stroke="#1c1c1c" stroke-width="1.4" fill="#dcdcdc" />
<circle cx="584.5" cy="191.6" r="3.0" stroke="#222" stroke-width="0.8" fill="#3c3c3c" />
<circle cx="584.5" cy="191.6" r="1.3" stroke="none" stroke-width="0" fill="#8a8a8a" />
<circle cx="584.5" cy="301.5" r="3.0" stroke="#222" stroke-width="0.8" fill="#3c3c3c" />
<circle cx="584.5" cy="301.5" r="1.3" stroke="none" stroke-width="0" fill="#8a8a8a" />
<path d="M590.6 164.8 L643.2 164.8 L643.2 162.4 L646.2 162.4 L646.2 159.6 L727.6 159.6 L730.1 161.8 L730.1 165.5 L731.8 165.5 L731.8 311 Q731.8 316.6 726 316.6 L590.6 316.6 Z" stroke="#1c1c1c" stroke-width="1.4" fill="#dcdcdc" />
<line x1="594.0" y1="167.0" x2="643.0" y2="167.0" stroke="#1c1c1c" stroke-width="1.2" />
<line x1="597.0" y1="171.4" x2="643.0" y2="171.4" stroke="#1c1c1c" stroke-width="1.1" />
<line x1="596.0" y1="176.9" x2="648.4" y2="176.9" stroke="#6a6a6a" stroke-width="1.5" />
<line x1="646.2" y1="162.3" x2="729.0" y2="162.3" stroke="#555" stroke-width="1.2" />
<line x1="645.1" y1="165.7" x2="645.1" y2="174.4" stroke="#7d7d7d" stroke-width="0.9" />
<line x1="647.7" y1="165.7" x2="647.7" y2="174.4" stroke="#7d7d7d" stroke-width="0.9" />
<line x1="649.6" y1="165.7" x2="649.6" y2="174.4" stroke="#7d7d7d" stroke-width="0.9" />
<line x1="643.2" y1="164.8" x2="643.2" y2="175.6" stroke="#1c1c1c" stroke-width="1.0" />
<line x1="725.2" y1="164.5" x2="725.2" y2="188.5" stroke="#7d7d7d" stroke-width="1.1" />
<line x1="595.0" y1="197.4" x2="729.5" y2="197.4" stroke="#1c1c1c" stroke-width="2.1" />
<line x1="595.0" y1="209.7" x2="729.5" y2="209.7" stroke="#1c1c1c" stroke-width="2.1" />
<line x1="595.0" y1="221.9" x2="729.5" y2="221.9" stroke="#1c1c1c" stroke-width="2.1" />
<line x1="595.0" y1="234.1" x2="729.5" y2="234.1" stroke="#1c1c1c" stroke-width="2.1" />
<line x1="595.0" y1="246.8" x2="729.5" y2="246.8" stroke="#1c1c1c" stroke-width="2.1" />
<line x1="595.0" y1="259.5" x2="729.5" y2="259.5" stroke="#1c1c1c" stroke-width="2.1" />
<line x1="595.0" y1="271.8" x2="729.5" y2="271.8" stroke="#1c1c1c" stroke-width="2.1" />
<line x1="595.0" y1="283.8" x2="729.5" y2="283.8" stroke="#1c1c1c" stroke-width="2.1" />
<line x1="594.3" y1="166.0" x2="594.3" y2="316.0" stroke="#1c1c1c" stroke-width="1.3" />
<line x1="603.2" y1="193.8" x2="603.2" y2="288.6" stroke="#7d7d7d" stroke-width="1.2" />
<line x1="721.1" y1="194.5" x2="721.1" y2="285.0" stroke="#7d7d7d" stroke-width="1.3" />
<line x1="729.3" y1="164.0" x2="729.3" y2="312.0" stroke="#1c1c1c" stroke-width="1.0" />
<rect x="594.5" y="189.3" width="139.7" height="3.9" stroke="none" stroke-width="0" fill="#ebebeb" />
<line x1="594.5" y1="189.3" x2="734.2" y2="189.3" stroke="#444" stroke-width="1.0" />
<line x1="594.5" y1="193.2" x2="734.2" y2="193.2" stroke="#7d7d7d" stroke-width="1.0" />
<rect x="716.2" y="189.3" width="18.0" height="3.9" stroke="#1c1c1c" stroke-width="1.0" fill="#ebebeb" />
<rect x="594.5" y="288.4" width="139.7" height="3.7" stroke="none" stroke-width="0" fill="#ebebeb" />
<line x1="594.5" y1="288.4" x2="734.2" y2="288.4" stroke="#444" stroke-width="1.0" />
<line x1="594.5" y1="292.1" x2="734.2" y2="292.1" stroke="#7d7d7d" stroke-width="1.0" />
<line x1="594.5" y1="286.2" x2="716.0" y2="286.2" stroke="#8a8a8a" stroke-width="0.9" />
<rect x="716.2" y="288.4" width="18.0" height="3.7" stroke="#1c1c1c" stroke-width="1.0" fill="#ebebeb" />
<line x1="590.8" y1="166.4" x2="594.3" y2="166.4" stroke="#7d7d7d" stroke-width="0.9" />
<line x1="590.8" y1="176.9" x2="594.3" y2="176.9" stroke="#7d7d7d" stroke-width="0.9" />
<line x1="590.8" y1="189.3" x2="594.3" y2="189.3" stroke="#7d7d7d" stroke-width="0.9" />
<line x1="590.8" y1="193.2" x2="594.3" y2="193.2" stroke="#7d7d7d" stroke-width="0.9" />
<line x1="590.8" y1="288.4" x2="594.3" y2="288.4" stroke="#7d7d7d" stroke-width="0.9" />
<line x1="590.8" y1="292.1" x2="594.3" y2="292.1" stroke="#7d7d7d" stroke-width="0.9" />
<line x1="590.8" y1="305.0" x2="594.3" y2="305.0" stroke="#7d7d7d" stroke-width="0.9" />
<rect x="592.6" y="235.2" width="6.2" height="11.2" stroke="#7d7d7d" stroke-width="1.0" fill="none" />
<rect x="723.2" y="235.0" width="7.2" height="11.6" stroke="#1c1c1c" stroke-width="1.0" fill="none" />
<rect x="595.0" y="305.5" width="135.5" height="4.4" stroke="none" stroke-width="0" fill="#ebebeb" />
<rect x="595.0" y="311.2" width="133.5" height="3.0" stroke="none" stroke-width="0" fill="#ebebeb" />
<line x1="594.5" y1="305.0" x2="731.0" y2="305.0" stroke="#1c1c1c" stroke-width="1.3" />
<line x1="594.5" y1="310.5" x2="728.5" y2="310.5" stroke="#1c1c1c" stroke-width="1.3" />
<line x1="594.5" y1="314.8" x2="728.0" y2="314.8" stroke="#1c1c1c" stroke-width="1.1" />
<path d="M729.3 305 L729.3 309 Q729 313.6 724 314.6" stroke="#1c1c1c" stroke-width="0.9" fill="none" />
<path d="M731.8 176.2 L752 176.2 Q758.5 177.2 760.6 184 L760.9 186.3 L783.3 178.6 L790.9 176 L790.9 306.6 L782.5 303.3 L760.6 295.3 Q758.6 303.6 751.4 304.9 L731.8 304.9 Z" stroke="#1c1c1c" stroke-width="1.3" fill="#dcdcdc" />
<path d="M763.2 218.1 L790.9 213.1 L790.9 232.3 L761.9 232.3 L761.9 220 Q762 218.4 763.2 218.1 Z" stroke="none" stroke-width="0" fill="#ffffff" />
<path d="M761.9 249.7 L790.9 249.7 L790.9 267.2 L763.2 261.3 Q762 261 761.9 259.5 Z" stroke="none" stroke-width="0" fill="#ffffff" />
<line x1="758.7" y1="217.1" x2="790.9" y2="211.2" stroke="#1c1c1c" stroke-width="1.1" stroke-dasharray="18 2"/>
<line x1="761.5" y1="218.6" x2="790.9" y2="213.3" stroke="#555" stroke-width="1.0" />
<line x1="758.7" y1="262.4" x2="790.9" y2="269.2" stroke="#1c1c1c" stroke-width="1.1" stroke-dasharray="18 2"/>
<line x1="761.5" y1="260.9" x2="790.9" y2="267.1" stroke="#555" stroke-width="1.0" />
<line x1="761.9" y1="232.3" x2="790.9" y2="232.3" stroke="#7d7d7d" stroke-width="1.0" />
<line x1="761.9" y1="249.7" x2="790.9" y2="249.7" stroke="#7d7d7d" stroke-width="1.0" />
<line x1="750.7" y1="179.5" x2="750.7" y2="301.6" stroke="#1c1c1c" stroke-width="1.2" />
<line x1="757.8" y1="188.5" x2="757.8" y2="213.0" stroke="#7d7d7d" stroke-width="1.3" />
<line x1="757.8" y1="268.9" x2="757.8" y2="292.6" stroke="#7d7d7d" stroke-width="1.3" />
<line x1="763.2" y1="188.5" x2="763.2" y2="213.0" stroke="#7d7d7d" stroke-width="1.3" />
<line x1="763.2" y1="268.9" x2="763.2" y2="292.6" stroke="#7d7d7d" stroke-width="1.3" />
<line x1="761.5" y1="220.0" x2="761.5" y2="259.5" stroke="#1c1c1c" stroke-width="2.0" stroke-dasharray="1 0.7"/>
<rect x="782.4" y="249.7" width="6.5" height="15.7" stroke="#1c1c1c" stroke-width="1.0" fill="#dcdcdc" />
<line x1="782.4" y1="251.6" x2="788.9" y2="251.6" stroke="#1c1c1c" stroke-width="0.9" />
<line x1="782.4" y1="259.3" x2="788.9" y2="259.3" stroke="#1c1c1c" stroke-width="0.9" />
<rect x="734.2" y="185.2" width="13.4" height="18.0" stroke="#555" stroke-width="0.9" fill="none" stroke-dasharray="2.5 1.2"/>
<line x1="737.5" y1="187.3" x2="744.2" y2="187.3" stroke="#666" stroke-width="1.2" />
<line x1="737.5" y1="190.7" x2="744.2" y2="190.7" stroke="#666" stroke-width="1.2" />
<line x1="737.5" y1="194.2" x2="744.2" y2="194.2" stroke="#666" stroke-width="1.2" />
<line x1="737.5" y1="197.6" x2="744.2" y2="197.6" stroke="#666" stroke-width="1.2" />
<line x1="737.5" y1="201.1" x2="744.2" y2="201.1" stroke="#666" stroke-width="1.2" />
<line x1="747.3" y1="186.2" x2="747.3" y2="202.2" stroke="#1c1c1c" stroke-width="1.3" stroke-dasharray="1.5 1"/>
<rect x="734.2" y="280.4" width="13.4" height="14.7" stroke="#555" stroke-width="0.9" fill="none" stroke-dasharray="2.5 1.2"/>
<line x1="737.5" y1="282.5" x2="744.2" y2="282.5" stroke="#666" stroke-width="1.2" />
<line x1="737.5" y1="285.1" x2="744.2" y2="285.1" stroke="#666" stroke-width="1.2" />
<line x1="737.5" y1="287.8" x2="744.2" y2="287.8" stroke="#666" stroke-width="1.2" />
<line x1="737.5" y1="290.4" x2="744.2" y2="290.4" stroke="#666" stroke-width="1.2" />
<line x1="737.5" y1="293.0" x2="744.2" y2="293.0" stroke="#666" stroke-width="1.2" />
<line x1="747.3" y1="281.4" x2="747.3" y2="294.1" stroke="#1c1c1c" stroke-width="1.3" stroke-dasharray="1.5 1"/>
<path d="M790.9 159.6 L822.5 159.6 L822.3 155.0 L821.5 146.8 L819.6 136.9 L816.6 120.3 L811.5 119.0 L808.8 117.3 L807.2 113.4 L807.2 86.5 L809.0 84.3 L873.0 84.3 L874.6 86.5 L874.6 113.4 L873.2 117.3 L869.5 119.3 L863.8 120.8 L861.8 136.9 L859.8 146.8 L859.2 153.0 L860.3 159.8 L862.7 171.3 L864.8 179.5 L866.8 186.0 L869.3 190.6 L875.0 191.7 L903.5 191.7 L903.5 289.8 L874.0 289.8 L871.4 290.2 L867.5 292.8 L864.6 299.5 L860.6 311.3 L856.7 319.1 L854.7 322.0 L853.8 327.0 L854.7 332.9 L855.7 335.8 L876.6 347.6 L876.8 358.0 L804.8 358.0 L805.0 347.6 L827.2 333.9 L825.3 329.0 L826.3 322.2 L790.9 322.2 Z" stroke="#1c1c1c" stroke-width="1.4" fill="#dcdcdc" stroke-linejoin="round"/>
<rect x="856.1" y="320.2" width="5.9" height="17.8" stroke="#1c1c1c" stroke-width="1.0" fill="#dcdcdc" />
<rect x="862.0" y="322.2" width="4.5" height="18.4" stroke="#1c1c1c" stroke-width="1.0" fill="#dcdcdc" />
<line x1="859.0" y1="320.2" x2="859.0" y2="338.0" stroke="#7d7d7d" stroke-width="0.8" />
<rect x="782.4" y="170.6" width="8.5" height="16.2" stroke="#1c1c1c" stroke-width="1.2" fill="#dcdcdc" />
<line x1="786.5" y1="170.6" x2="786.5" y2="186.8" stroke="#7d7d7d" stroke-width="0.9" />
<rect x="782.4" y="295.1" width="8.5" height="15.5" stroke="#1c1c1c" stroke-width="1.2" fill="#dcdcdc" />
<line x1="786.5" y1="295.1" x2="786.5" y2="310.6" stroke="#7d7d7d" stroke-width="0.9" />
<line x1="813.3" y1="87.8" x2="813.3" y2="111.6" stroke="#1c1c1c" stroke-width="1.3" />
<line x1="834.3" y1="87.8" x2="834.3" y2="111.6" stroke="#1c1c1c" stroke-width="1.3" />
<line x1="846.5" y1="87.8" x2="846.5" y2="111.6" stroke="#1c1c1c" stroke-width="1.3" />
<line x1="868.1" y1="87.8" x2="868.1" y2="111.6" stroke="#1c1c1c" stroke-width="1.3" />
<line x1="816.2" y1="114.0" x2="832.3" y2="114.0" stroke="#7d7d7d" stroke-width="1.1" />
<line x1="849.6" y1="114.0" x2="865.7" y2="114.0" stroke="#7d7d7d" stroke-width="1.1" />
<line x1="837.2" y1="114.0" x2="844.1" y2="114.0" stroke="#7d7d7d" stroke-width="1.0" />
<line x1="820.5" y1="119.8" x2="836.3" y2="119.8" stroke="#1c1c1c" stroke-width="0.9" stroke-dasharray="10 2"/>
<line x1="846.0" y1="119.8" x2="858.0" y2="119.8" stroke="#1c1c1c" stroke-width="0.9" stroke-dasharray="10 2"/>
<line x1="824.5" y1="123.2" x2="832.5" y2="123.2" stroke="#7d7d7d" stroke-width="0.9" />
<line x1="849.0" y1="123.2" x2="857.0" y2="123.2" stroke="#7d7d7d" stroke-width="0.9" />
<path d="M834.3 112 q1 7 6.2 10 q5 -3 6 -10" stroke="#7d7d7d" stroke-width="0.9" fill="none" />
<path d="M813.3 111.6 q1 5 4 8.5" stroke="#7d7d7d" stroke-width="0.9" fill="none" stroke-dasharray="2 1.5"/>
<path d="M868.1 111.6 q-1 5 -5 8.8" stroke="#7d7d7d" stroke-width="0.9" fill="none" stroke-dasharray="2 1.5"/>
<path d="M819.6 137.9 Q823 145.5 832.3 149.7" stroke="#1c1c1c" stroke-width="0.9" fill="none" />
<path d="M861.8 137.9 Q858.5 145.5 849 149.7" stroke="#1c1c1c" stroke-width="0.9" fill="none" />
<line x1="835.3" y1="146.4" x2="846.5" y2="146.4" stroke="#1c1c1c" stroke-width="0.9" />
<path d="M826 152.5 Q830 150.5 833.5 152" stroke="#7d7d7d" stroke-width="0.8" fill="none" stroke-dasharray="2 1.5"/>
<path d="M855 152.5 Q851 150.5 847.5 152" stroke="#7d7d7d" stroke-width="0.8" fill="none" stroke-dasharray="2 1.5"/>
<path d="M829.6 167.2 L830.2 159 Q831.5 154.6 836 154.4 L847 154.4 Q851.8 154.6 852.8 159.6 L853.2 167" stroke="#1c1c1c" stroke-width="1.2" fill="#dcdcdc" />
<path d="M791.2 167.2 L842.3 167.2 Q852.5 168.5 858.6 177.8 Q862 185 864.4 196.6" stroke="#1c1c1c" stroke-width="1.3" fill="none" />
<path d="M852.9 159.8 Q857 163 859.5 171 L865.2 195.8" stroke="#1c1c1c" stroke-width="1.0" fill="none" />
<path d="M840.6 172.3 Q851 172.8 857.5 185.5" stroke="#1c1c1c" stroke-width="0.9" fill="none" />
<path d="M840.6 175.2 Q851 175.7 857.5 186.7" stroke="#7d7d7d" stroke-width="0.9" fill="none" />
<path d="M840.6 178.0 Q851 178.5 857.5 187.9" stroke="#1c1c1c" stroke-width="0.9" fill="none" />
<path d="M828.4 199.1 L828.9 189.3 Q830.5 181.6 840.6 180.6 Q851.5 181.6 852.1 190 L852.1 199.1" stroke="#1c1c1c" stroke-width="1.5" fill="none" />
<path d="M828.4 199.1 Q832.5 194.3 840.6 194.2 Q848.8 194.3 852.1 199.1" stroke="#1c1c1c" stroke-width="1.2" fill="none" />
<path d="M828.6 199.1 Q825.6 250 827 280 Q827.6 292 827.4 301.4" stroke="#1c1c1c" stroke-width="1.1" fill="none" />
<path d="M852 199.1 Q854.8 250 854.2 280 Q853.9 292 853.5 301.4" stroke="#1c1c1c" stroke-width="1.6" fill="none" />
<path d="M830.6 201 Q827.8 250 829 280 L829.5 299" stroke="#7d7d7d" stroke-width="0.9" fill="none" />
<path d="M850 201 Q852.6 250 852 280 L851.3 299" stroke="#555" stroke-width="0.9" fill="none" />
<path d="M827.2 301.4 Q829 309 840.6 310 Q852 309 853.6 301.4" stroke="#1c1c1c" stroke-width="1.2" fill="none" stroke-dasharray="9 2 3 2"/>
<path d="M829.5 299 Q831 306 840.6 306.8 Q850 306 851.3 299" stroke="#7d7d7d" stroke-width="1.0" fill="none" stroke-dasharray="7 2"/>
<path d="M827.2 314.2 Q833 318.3 840.6 318.3 Q848.5 318.3 854.7 314.2" stroke="#1c1c1c" stroke-width="1.0" fill="none" />
<line x1="804.5" y1="160.0" x2="804.5" y2="322.0" stroke="#1c1c1c" stroke-width="1.3" />
<line x1="793.8" y1="160.0" x2="793.8" y2="322.0" stroke="#7d7d7d" stroke-width="0.9" stroke-dasharray="14 2"/>
<line x1="858.9" y1="197.0" x2="858.9" y2="288.6" stroke="#8a8a8a" stroke-width="1.7" />
<path d="M865.6 195.5 Q869.6 212.2 866.2 229.0" stroke="#1c1c1c" stroke-width="1.0" fill="none" stroke-dasharray="9 2 2 2"/>
<path d="M871 193.5 Q875 212.2 871.6 231.0" stroke="#1c1c1c" stroke-width="0.9" fill="none" stroke-dasharray="11 2.5"/>
<path d="M865.6 252.5 Q869.6 269.5 866.2 286.5" stroke="#1c1c1c" stroke-width="1.0" fill="none" stroke-dasharray="9 2 2 2"/>
<path d="M871 250.5 Q875 269.5 871.6 288.5" stroke="#1c1c1c" stroke-width="0.9" fill="none" stroke-dasharray="11 2.5"/>
<line x1="867.2" y1="231.5" x2="867.2" y2="250.0" stroke="#1c1c1c" stroke-width="0.9" stroke-dasharray="5 2"/>
<path d="M863.6 284.7 L858.7 299.5 L854.7 311.3" stroke="#1c1c1c" stroke-width="1.0" fill="none" />
<line x1="860.5" y1="287.0" x2="865.0" y2="290.5" stroke="#1c1c1c" stroke-width="0.8" />
<line x1="861.6" y1="288.5" x2="865.8" y2="292.1" stroke="#1c1c1c" stroke-width="0.8" />
<line x1="862.7" y1="290.0" x2="866.6" y2="293.7" stroke="#1c1c1c" stroke-width="0.8" />
<line x1="863.8" y1="291.5" x2="867.4" y2="295.3" stroke="#1c1c1c" stroke-width="0.8" />
<line x1="864.9" y1="293.0" x2="868.2" y2="296.9" stroke="#1c1c1c" stroke-width="0.8" />
<line x1="860.8" y1="193.5" x2="865.5" y2="190.0" stroke="#1c1c1c" stroke-width="0.8" />
<line x1="861.8" y1="191.9" x2="866.1" y2="188.4" stroke="#1c1c1c" stroke-width="0.8" />
<line x1="862.8" y1="190.3" x2="866.7" y2="186.8" stroke="#1c1c1c" stroke-width="0.8" />
<line x1="863.8" y1="188.7" x2="867.3" y2="185.2" stroke="#1c1c1c" stroke-width="0.8" />
<line x1="791.2" y1="313.6" x2="826.0" y2="313.6" stroke="#1c1c1c" stroke-width="1.0" />
<line x1="794.8" y1="175.9" x2="799.9" y2="175.9" stroke="#7d7d7d" stroke-width="1.1" />
<line x1="794.8" y1="178.2" x2="799.9" y2="178.2" stroke="#7d7d7d" stroke-width="1.1" />
<line x1="794.8" y1="192.9" x2="799.9" y2="192.9" stroke="#7d7d7d" stroke-width="1.1" />
<line x1="794.8" y1="196.6" x2="799.9" y2="196.6" stroke="#7d7d7d" stroke-width="1.1" />
<line x1="794.8" y1="284.7" x2="799.9" y2="284.7" stroke="#7d7d7d" stroke-width="1.1" />
<line x1="794.8" y1="288.7" x2="799.9" y2="288.7" stroke="#7d7d7d" stroke-width="1.1" />
<line x1="794.8" y1="303.4" x2="799.9" y2="303.4" stroke="#7d7d7d" stroke-width="1.1" />
<line x1="794.8" y1="306.3" x2="799.9" y2="306.3" stroke="#7d7d7d" stroke-width="1.1" />
<line x1="808.7" y1="175.9" x2="837.4" y2="175.9" stroke="#7d7d7d" stroke-width="1.2" />
<line x1="808.7" y1="178.2" x2="837.4" y2="178.2" stroke="#7d7d7d" stroke-width="1.2" />
<line x1="808.7" y1="195.0" x2="825.3" y2="195.0" stroke="#1c1c1c" stroke-width="1.4" />
<line x1="808.6" y1="286.3" x2="823.3" y2="286.3" stroke="#1c1c1c" stroke-width="1.4" />
<line x1="808.6" y1="305.2" x2="823.3" y2="305.2" stroke="#7d7d7d" stroke-width="1.4" />
<line x1="804.2" y1="170.5" x2="804.2" y2="195.0" stroke="#1c1c1c" stroke-width="2.4" stroke-dasharray="1 0.7"/>
<line x1="804.2" y1="288.7" x2="804.2" y2="297.5" stroke="#1c1c1c" stroke-width="2.4" stroke-dasharray="1 0.7"/>
<line x1="804.2" y1="303.4" x2="804.2" y2="311.3" stroke="#1c1c1c" stroke-width="2.4" stroke-dasharray="1 0.7"/>
<line x1="874.0" y1="201.8" x2="900.0" y2="201.8" stroke="#1c1c1c" stroke-width="1.2" />
<line x1="868.5" y1="230.2" x2="900.0" y2="230.2" stroke="#1c1c1c" stroke-width="1.2" />
<line x1="868.5" y1="251.4" x2="900.0" y2="251.4" stroke="#1c1c1c" stroke-width="1.2" />
<line x1="874.0" y1="279.9" x2="900.0" y2="279.9" stroke="#1c1c1c" stroke-width="1.2" />
<line x1="902.7" y1="192.0" x2="902.7" y2="289.5" stroke="#1c1c1c" stroke-width="2.0" />
<rect x="861.3" y="235.7" width="3.4" height="15.4" stroke="#333" stroke-width="0.9" fill="#a8a8a8" rx="1.5"/>
<line x1="805.0" y1="347.6" x2="876.6" y2="347.6" stroke="#1c1c1c" stroke-width="1.0" />
<line x1="836.5" y1="301.0" x2="836.5" y2="347.6" stroke="#1c1c1c" stroke-width="1.0" />
<line x1="838.4" y1="301.0" x2="838.4" y2="347.6" stroke="#7d7d7d" stroke-width="1.0" />
<line x1="843.0" y1="301.0" x2="843.0" y2="347.6" stroke="#7d7d7d" stroke-width="1.0" />
<line x1="844.9" y1="301.0" x2="844.9" y2="347.6" stroke="#1c1c1c" stroke-width="1.0" />
<line x1="847.3" y1="324.0" x2="847.3" y2="345.0" stroke="#1c1c1c" stroke-width="1.6" stroke-dasharray="1.4 1"/>
<circle cx="832.3" cy="335.8" r="1.0" stroke="#1c1c1c" stroke-width="0.7" fill="none" />
<circle cx="849.5" cy="335.8" r="1.0" stroke="#1c1c1c" stroke-width="0.7" fill="none" />
<line x1="809.5" y1="350.5" x2="809.5" y2="355.0" stroke="#1c1c1c" stroke-width="1.0" />
<line x1="872.1" y1="350.5" x2="872.1" y2="355.0" stroke="#1c1c1c" stroke-width="1.0" />
<line x1="512.3" y1="240.9" x2="915.0" y2="240.9" stroke="#7c7c7c" stroke-width="1.8" stroke-dasharray="30 3.5 3.5 3.5" stroke-dashoffset="15.3"/>
<line x1="840.5" y1="78.0" x2="840.5" y2="362.0" stroke="#7d7d7d" stroke-width="1.2" stroke-dasharray="20 3 4 3"/>
<line x1="840.3" y1="32.3" x2="903.6" y2="32.3" stroke="#1c1c1c" stroke-width="1.0" />
<path d="M840.1 32.3 L849.9 30.3 L849.9 34.3 Z" fill="#161616" stroke="none"/>
<path d="M903.8 32.3 L894.0 34.3 L894.0 30.3 Z" fill="#161616" stroke="none"/>
<line x1="840.3" y1="31.6" x2="840.3" y2="62.0" stroke="#1c1c1c" stroke-width="1.0" />
<text x="0" y="0" font-size="21.4" fill="#1b1b26" transform="translate(863.33 22.80) scale(0.9832 1)">N</text>
<line x1="903.6" y1="31.0" x2="903.6" y2="426.6" stroke="#1c1c1c" stroke-width="1.3" />
<line x1="771.8" y1="46.4" x2="868.2" y2="46.4" stroke="#1c1c1c" stroke-width="1.0" />
<path d="M813.1 46.4 L822.9 44.4 L822.9 48.4 Z" fill="#161616" stroke="none"/>
<path d="M868.4 46.4 L858.6 48.4 L858.6 44.4 Z" fill="#161616" stroke="none"/>
<line x1="813.3" y1="45.6" x2="813.3" y2="84.0" stroke="#1c1c1c" stroke-width="1.0" />
<line x1="868.2" y1="45.6" x2="868.2" y2="84.0" stroke="#8a8a8a" stroke-width="1.3" />
<text x="0" y="0" font-size="21.4" fill="#1b1b26" transform="translate(761.75 37.80) scale(1.0265 1)">DNM</text>
<path d="M840.3 59.3 L847.7 77.0 L832.9 77.0 Z" stroke="none" stroke-width="0" fill="#151515" />
<line x1="903.7" y1="202.3" x2="963.6" y2="202.3" stroke="#1c1c1c" stroke-width="1.0" />
<line x1="903.7" y1="279.2" x2="963.6" y2="279.2" stroke="#1c1c1c" stroke-width="1.0" />
<line x1="961.8" y1="202.3" x2="961.8" y2="279.2" stroke="#1c1c1c" stroke-width="1.0" />
<path d="M961.8 202.1 L963.8 211.9 L959.8 211.9 Z" fill="#161616" stroke="none"/>
<path d="M961.8 279.4 L959.8 269.6 L963.8 269.6 Z" fill="#161616" stroke="none"/>
<text x="0" y="0" font-size="21.8" fill="#1b1b26" transform="translate(958.30 263.59) rotate(-90) scale(0.9412 1)">DNA</text>
<path d="M916.4 241.0 L932.8 233.4 L932.8 248.2 Z" stroke="none" stroke-width="0" fill="#151515" />
<line x1="809.5" y1="358.5" x2="809.5" y2="409.2" stroke="#1c1c1c" stroke-width="1.2" />
<line x1="871.7" y1="358.5" x2="871.7" y2="382.5" stroke="#6a6a6a" stroke-width="1.2" />
<line x1="809.5" y1="381.6" x2="871.7" y2="381.6" stroke="#777" stroke-width="1.2" />
<path d="M809.3 381.6 L819.1 379.6 L819.1 383.6 Z" fill="#161616" stroke="none"/>
<path d="M871.9 381.6 L862.1 383.6 L862.1 379.6 Z" fill="#161616" stroke="none"/>
<text x="0" y="0" font-size="21.4" fill="#1b1b26" transform="translate(834.00 377.90) scale(0.8319 1)">B</text>
<line x1="809.5" y1="408.5" x2="903.6" y2="408.5" stroke="#1c1c1c" stroke-width="1.1" />
<path d="M809.3 408.5 L819.1 406.5 L819.1 410.5 Z" fill="#161616" stroke="none"/>
<path d="M903.8 408.5 L894.0 410.5 L894.0 406.5 Z" fill="#161616" stroke="none"/>
<text x="0" y="0" font-size="21.4" fill="#1b1b26" transform="translate(849.40 402.80) scale(0.9787 1)">A</text>
<line x1="522.4" y1="290.0" x2="522.4" y2="426.6" stroke="#6a6a6a" stroke-width="1.3" />
<line x1="522.4" y1="425.8" x2="903.6" y2="425.8" stroke="#a3a3a3" stroke-width="1.9" />
<path d="M522.0 425.8 L531.8 423.8 L531.8 427.8 Z" fill="#161616" stroke="none"/>
<path d="M904.0 425.8 L894.2 427.8 L894.2 423.8 Z" fill="#161616" stroke="none"/>
<text x="0" y="0" font-size="21.4" fill="#1b1b26" transform="translate(706.59 418.80) scale(0.8296 1)">C</text>
</svg>
</body>
</html>
